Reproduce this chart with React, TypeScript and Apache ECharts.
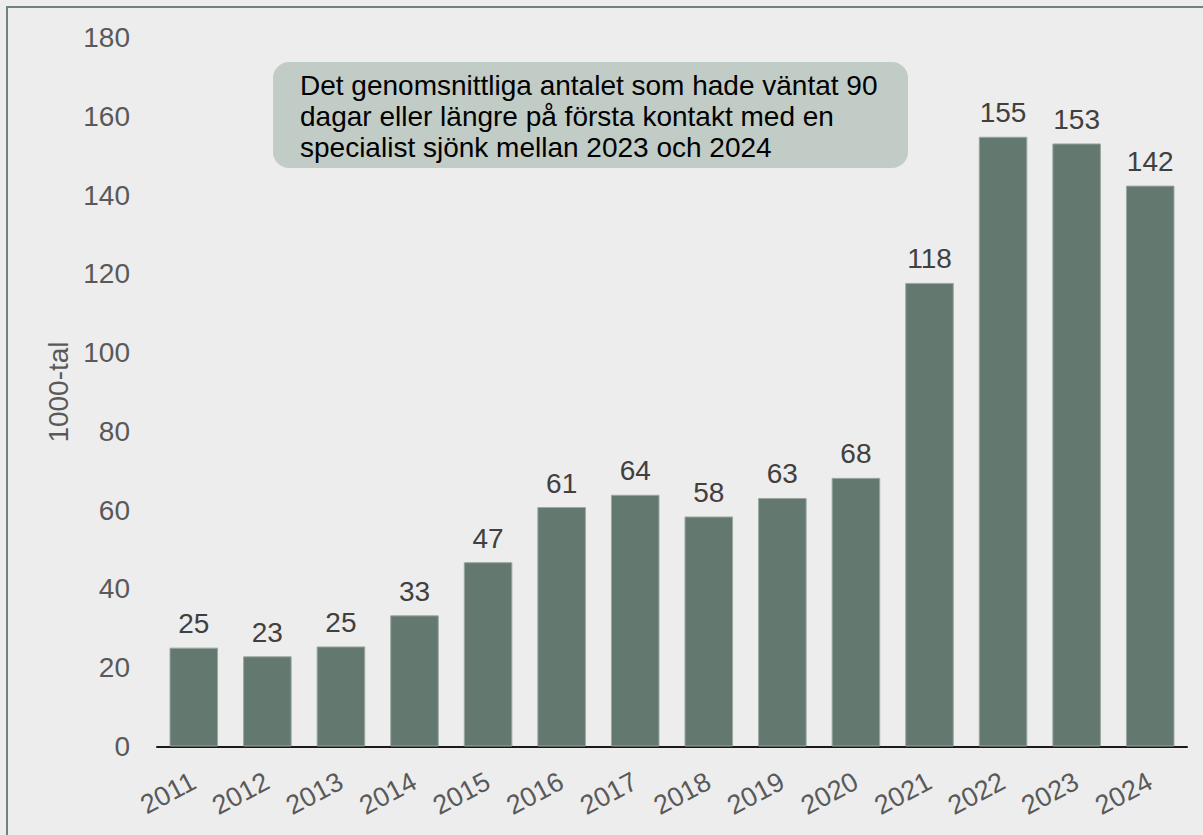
import React, { useEffect, useRef } from "react";
import * as echarts from "echarts";

const years = ["2011", "2012", "2013", "2014", "2015", "2016", "2017", "2018", "2019", "2020", "2021", "2022", "2023", "2024"];
const values = [25.1, 22.9, 25.4, 33.3, 46.8, 60.8, 63.9, 58.4, 63.1, 68.2, 117.7, 154.8, 153.1, 142.4];
const yTicks = [0, 20, 40, 60, 80, 100, 120, 140, 160, 180];
const yAxisName = "1000-tal";
const noteLines = [
  "Det genomsnittliga antalet som hade väntat 90",
  "dagar eller längre på första kontakt med en",
  "specialist sjönk mellan 2023 och 2024",
];

const FONT = "'Liberation Sans', Arial, sans-serif";

export default function App() {
  const ref = useRef<HTMLDivElement>(null);
  useEffect(() => {
    if (!ref.current) return;
    const chart = echarts.init(ref.current, undefined, { renderer: "svg" });
    chart.setOption({
      animation: false,
      backgroundColor: "#EDEDED",
      textStyle: { fontFamily: FONT },
      grid: { left: 157, right: 16, top: 37.5, bottom: 88.5, containLabel: false },
      xAxis: {
        type: "category",
        data: years,
        axisLine: { show: true, lineStyle: { color: "#1a1a1a", width: 2 } },
        axisTick: { show: false },
        axisLabel: {
          rotate: 28,
          fontSize: 27,
          color: "#595959",
          fontFamily: FONT,
          margin: 33,
          interval: 0,
        },
      },
      yAxis: {
        type: "value",
        min: yTicks[0],
        max: yTicks[yTicks.length - 1],
        interval: 20,
        name: yAxisName,
        nameLocation: "middle",
        nameRotate: 90,
        nameGap: 85,
        nameTextStyle: { fontSize: 28, color: "#595959", fontFamily: FONT },
        axisLine: { show: false },
        axisTick: { show: false },
        splitLine: { show: false },
        axisLabel: { fontSize: 28, color: "#595959", fontFamily: FONT, margin: 27 },
      },
      series: [
        {
          type: "bar",
          data: values,
          barWidth: "66%",
          itemStyle: { color: "#63786E", borderColor: "#9AA89F", borderWidth: 1 },
          label: {
            show: true,
            position: "top",
            distance: 10,
            fontSize: 28,
            color: "#404040",
            fontFamily: FONT,
            formatter: (p: any) => String(Math.round(p.value)),
          },
        },
      ],
      graphic: [
        {
          type: "rect",
          shape: { x: 7, y: 7, width: 1230, height: 860 },
          style: { fill: "none", stroke: "#6E8478", lineWidth: 2 },
          silent: true,
        },
        {
          type: "rect",
          shape: { x: 273, y: 62, width: 635, height: 106, r: 16 },
          style: { fill: "#C2CCC6" },
          z: 10,
        },
        {
          type: "text",
          x: 300,
          y: 70,
          z: 11,
          style: {
            text: noteLines.join("\n"),
            fontSize: 28,
            lineHeight: 31,
            fill: "#000000",
            fontFamily: FONT,
            verticalAlign: "top",
            align: "left",
          },
        },
      ],
    });
    return () => chart.dispose();
  }, []);
  return (
    <div
      ref={ref}
      style={{ position: "absolute", left: 0, top: 0, width: 1203, height: 835 }}
    />
  );
}
